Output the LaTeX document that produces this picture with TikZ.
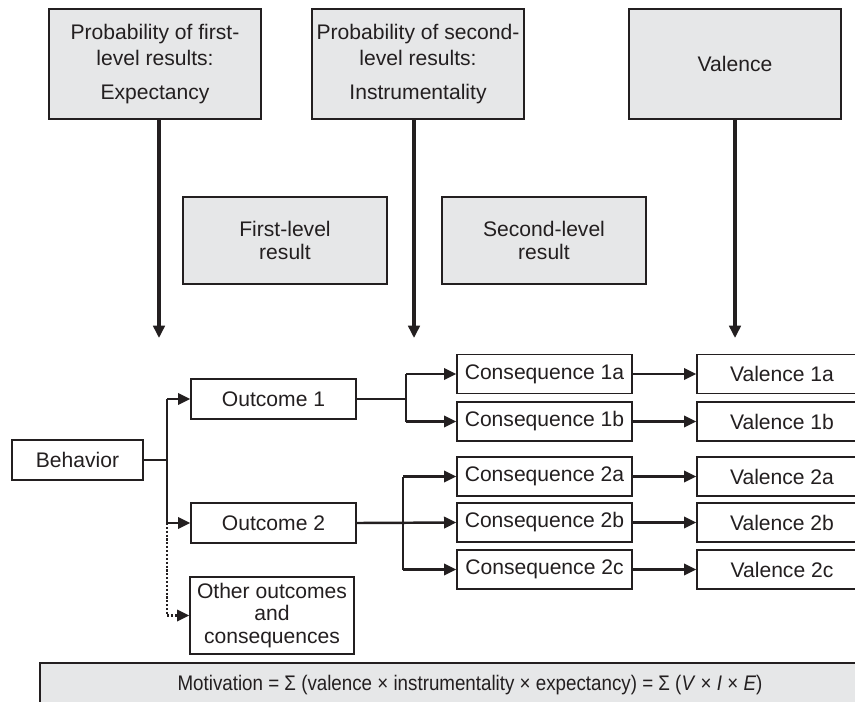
\documentclass[tikz,border=0pt]{standalone}
\usepackage{fontspec}
\setmainfont{Liberation Sans}
\usepackage{xcolor}
\usetikzlibrary{arrows.meta}
\definecolor{boxgrey}{HTML}{E6E7E8}
\definecolor{inkgrey}{HTML}{231F20}
\tikzset{
greyboxv1/.style={rectangle, draw=inkgrey,fill=boxgrey,line width=0.8pt, inner sep=0pt, align=center, text=inkgrey, font=\fontsize{12}{14.4}\selectfont, minimum width=4.24cm, minimum height=2.2cm},
greyboxv2/.style={rectangle, draw=inkgrey,fill=boxgrey,line width=0.8pt, inner sep=0pt, align=center, text=inkgrey, font=\fontsize{12}{13.6}\selectfont, minimum width=4.08cm, minimum height=1.74cm},
whiteboxv1/.style={rectangle, draw=inkgrey,fill=white,line width=0.8pt, inner sep=0pt, align=center, text=inkgrey, font=\fontsize{12}{12.6}\selectfont, minimum width=3.3cm, minimum height=0.8cm},
whiteboxv2/.style={rectangle, draw=inkgrey,fill=white,line width=0.8pt, inner sep=0pt, align=center, text=inkgrey, font=\fontsize{12}{14.4}\selectfont, minimum width=3.5cm, minimum height=0.78cm},
linkv1/.style={draw=inkgrey,line width=1.4pt},
arrowv1/.style={draw=inkgrey,line width=1.4pt,-{Triangle[length=7pt,width=6.5pt]}},
}

\begin{document}
\begin{tikzpicture}[x=0.02cm,y=-0.02cm]
\useasboundingbox (0,0) rectangle (855,701);

% top row: the three factors
\node[greyboxv1] at (155,64) (expect) {Probability of first-\\level results:\\[5pt] Expectancy};
\node[greyboxv1] at (418,64) (instr) {Probability of second-\\level results:\\[5pt] Instrumentality};
\node[greyboxv1] at (735,64) (val) {Valence};

\node[greyboxv2] at (285,240.5) (firstres) {First-level\\result};
\node[greyboxv2] at (544,240.5) (secondres) {Second-level\\result};

\coordinate (expecttip) at (159,338);
\coordinate (instrtip) at (414,338);
\coordinate (valtip) at (735,338);
\draw[arrowv1,line width=1.8pt] (expect.south -| expecttip) -- (expecttip);
\draw[arrowv1,line width=1.8pt] (instr.south -| instrtip) -- (instrtip);
\draw[arrowv1,line width=1.8pt] (val.south -| valtip) -- (valtip);

% behavior and outcomes
\node[whiteboxv1, minimum width=2.62cm] at (77.5,460) (behav) {Behavior};
\node[whiteboxv1] at (273.5,399) (out1) {Outcome 1};
\node[whiteboxv1] at (273.5,523) (out2) {Outcome 2};
\node[whiteboxv1, minimum width=3.28cm, minimum height=1.54cm] at (272,615.5) (other) {Other outcomes\\and\\consequences};

% consequences
\node[whiteboxv2] at (544.5,374) (c1a) {Consequence 1a};
\node[whiteboxv2] at (544.5,421.5) (c1b) {Consequence 1b};
\node[whiteboxv2] at (544.5,476.5) (c2a) {Consequence 2a};
\node[whiteboxv2] at (544.5,522.5) (c2b) {Consequence 2b};
\node[whiteboxv2] at (544.5,569.5) (c2c) {Consequence 2c};

% valences
\node[whiteboxv2, minimum width=3.4cm] at (782,374) (v1a) {Valence 1a};
\node[whiteboxv2, minimum width=3.4cm] at (782,421.5) (v1b) {Valence 1b};
\node[whiteboxv2, minimum width=3.4cm] at (782,476.5) (v2a) {Valence 2a};
\node[whiteboxv2, minimum width=3.4cm] at (782,522.5) (v2b) {Valence 2b};
\node[whiteboxv2, minimum width=3.4cm] at (782,569.5) (v2c) {Valence 2c};

% branching
\coordinate (b0) at (167,460);
\coordinate (b1) at (406,399);
\coordinate (b2) at (403,523);
\draw[linkv1] (behav.east) -- (b0);
\draw[linkv1] (b0 |- out1) -- (b0 |- out2);
\draw[arrowv1] (b0 |- out1) -- (out1.west);
\draw[arrowv1] (b0 |- out2) -- (out2.west);
\draw[inkgrey,line width=1.2pt,densely dotted,-{Triangle[length=7pt,width=6.5pt]}] (b0 |- out2) -- (b0 |- other.west) -- (other.west);

\draw[linkv1] (out1.east) -- (b1);
\draw[linkv1] (b1 |- c1a) -- (b1 |- c1b);
\draw[arrowv1] (b1 |- c1a) -- (c1a.west);
\draw[arrowv1] (b1 |- c1b) -- (c1b.west);

\draw[arrowv1] (out2.east) -- (c2b.west);
\draw[linkv1] (b2 |- c2a) -- (b2 |- c2c);
\draw[arrowv1] (b2 |- c2a) -- (c2a.west);
\draw[arrowv1] (b2 |- c2c) -- (c2c.west);

\foreach \c/\v in {c1a/v1a,c1b/v1b,c2a/v2a,c2b/v2b,c2c/v2c}
  \draw[arrowv1] (\c.east) -- (\v.west);

% formula bar
\node[greyboxv1, minimum width=17.2cm, minimum height=0.88cm] at (470,685) (formula) {\scalebox{0.89}[1]{Motivation = Σ (valence × instrumentality × expectancy) = Σ (\textit{V} × \textit{I} × \textit{E})}};

\end{tikzpicture}
\end{document}
